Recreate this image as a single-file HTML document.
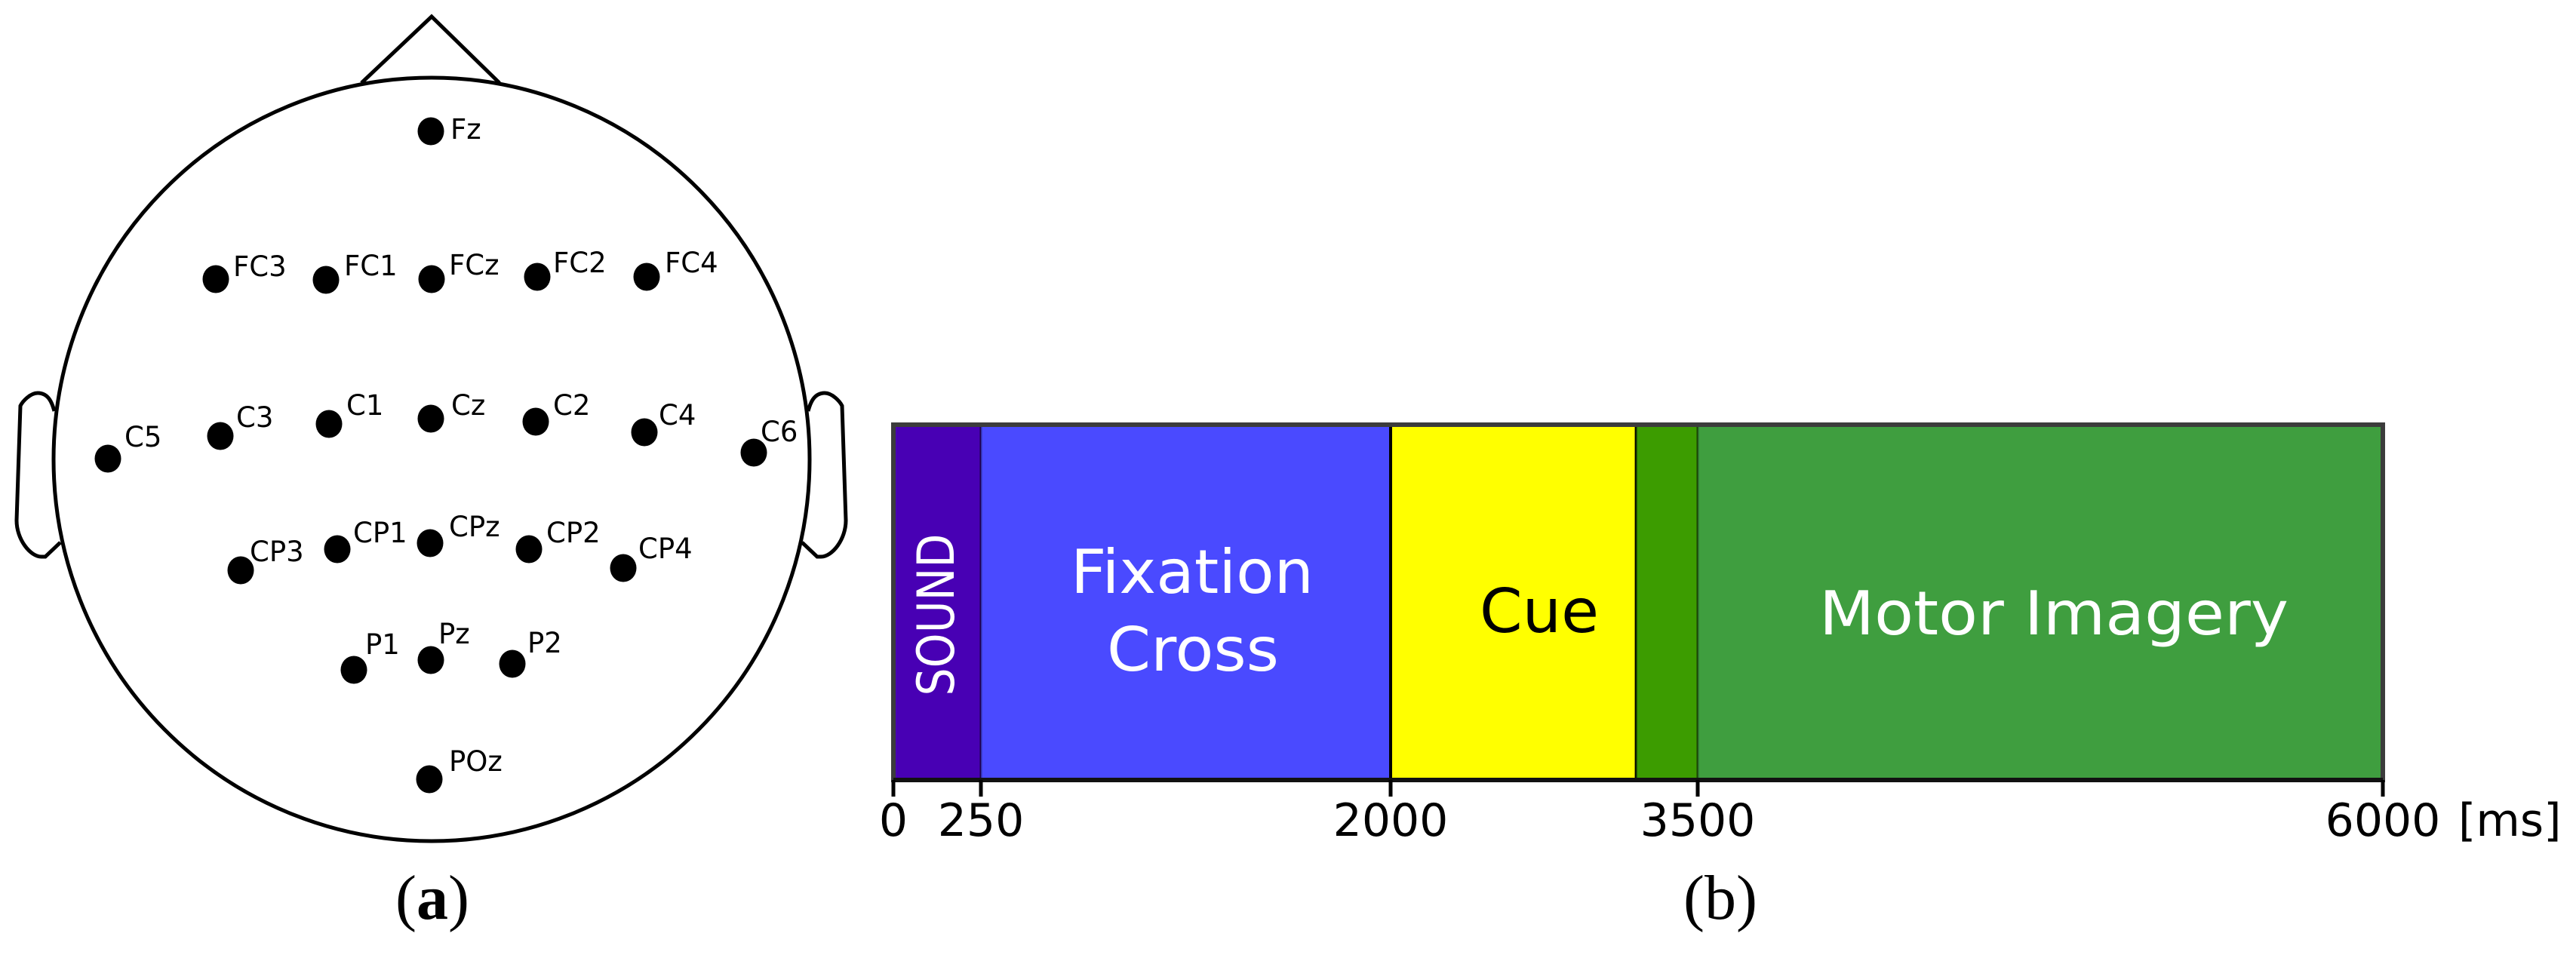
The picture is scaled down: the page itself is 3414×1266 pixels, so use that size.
<!DOCTYPE html>
<html><head><meta charset="utf-8"><style>
html,body{margin:0;padding:0;background:#fff;}
svg{display:block;}
</style></head><body>
<svg id="fig" width="3414" height="1266" viewBox="0 0 3414 1266" xmlns="http://www.w3.org/2000/svg">
<g id="head">
  <polyline points="479,110 572,22 662,110" fill="none" stroke="#000" stroke-width="5"/>
  <path d="M72,545 C70,538 66,521 50,521 C40,521 30,532 27,538 L22,690 C22,715 40,738 55,738 L60,738 L80,719" fill="none" stroke="#000" stroke-width="5"/>
  <path d="M1071,545 C1073,538 1077,521 1093,521 C1103,521 1113,532 1116,538 L1121,690 C1121,715 1103,738 1088,738 L1083,738 L1063,719" fill="none" stroke="#000" stroke-width="5"/>
  <ellipse cx="572" cy="609" rx="501" ry="506" fill="#fff" stroke="#000" stroke-width="5"/>
  <g id="electrodes"></g>
  <text x="573" y="1218" text-anchor="middle" font-family="Liberation Serif, serif" font-size="84">(<tspan font-weight="bold">a</tspan>)</text>
</g>
<g id="timeline"></g>
</svg>
<script>
// electrode data: name, x, y, label x, label baseline
const elNames = ["Fz","FC3","FC1","FCz","FC2","FC4","C5","C3","C1","Cz","C2","C4","C6","CP3","CP1","CPz","CP2","CP4","P1","Pz","P2","POz"];
const elX = [571,286,432,572,712,857,143,292,436,571,710,854,999,319,447,570,701,826,469,571,679,569];
const elY = [174,370,371,370,367,367,608,578,562,555,559,573,600,756,728,720,728,753,888,875,880,1033];
const lblX = [597,309,456,595,733,881,165,313,459,598,733,873,1008,331,468,595,724,846,484,581,699,595];
const lblY = [184,366,365,364,361,361,592,566,550,550,550,563,585,744,719,711,719,740,867,853,865,1022];

// timeline data (ms)
const phaseNames = ["SOUND","Fixation Cross","Cue","Transition","Motor Imagery"];
const phaseStart = [0,250,2000,3200,3500];
const phaseEnd = [250,2000,3200,3500,6000];
const phaseColors = ["#4800b4","#4a4aff","#ffff00","#3c9c00","#3f9e3f"];
const tickValues = [0,250,2000,3500,6000];
const tickLabels = ["0","250","2000","3500","6000"];

const NS="http://www.w3.org/2000/svg";
function mk(tag, attrs, parent){const e=document.createElementNS(NS,tag);for(const k in attrs)e.setAttribute(k,attrs[k]);parent.appendChild(e);return e;}

const eg=document.getElementById('electrodes');
elNames.forEach((n,i)=>{
  const c=mk('ellipse',{cx:elX[i],cy:elY[i],rx:17.5,ry:18.5,fill:'#000'},eg);
  
  
  const t=mk('text',{x:lblX[i],y:lblY[i],'font-family':'DejaVu Sans, sans-serif','font-size':37,fill:'#000'},eg);
  t.textContent=n;
  
  
});

// piecewise axis (the reference axis is not linear)
const axVals=[0,250,2000,3500,6000];
const axPx=[1184,1300,1843,2250,3158];
function xs(v){
  for(let i=0;i<axVals.length-1;i++){
    if(v<=axVals[i+1]){const f=(v-axVals[i])/(axVals[i+1]-axVals[i]);return axPx[i]+f*(axPx[i+1]-axPx[i]);}
  }
  return axPx[axPx.length-1];
}
const barTop=563, barBot=1034;
const tg=document.getElementById('timeline');
phaseNames.forEach((n,i)=>{
  const x0=xs(phaseStart[i]), x1=xs(phaseEnd[i]);
  const r=mk('rect',{x:x0,y:barTop,width:x1-x0,height:barBot-barTop,fill:phaseColors[i],stroke:i==2?'#000':'rgba(0,0,0,0.35)','stroke-width':i==2?4:3},tg);
  
  
});
const frame=mk('rect',{x:xs(0),y:barTop,width:xs(6000)-xs(0),height:barBot-barTop,fill:'none',stroke:'#3c3c3c','stroke-width':6},tg);


const axl=mk('line',{x1:xs(0),y1:barBot,x2:xs(6000),y2:barBot,stroke:'#111','stroke-width':6},tg);


tickValues.forEach((v,i)=>{
  const l=mk('line',{x1:xs(v),y1:barBot,x2:xs(v),y2:1056,stroke:'#000','stroke-width':5},tg);
  
  
  const t=mk('text',{x:xs(v),y:1108,'text-anchor':'middle','font-family':'DejaVu Sans, sans-serif','font-size':60},tg);
  t.textContent=tickLabels[i];
  
  
});
const unit=mk('text',{x:xs(6000)+100,y:1108,'font-family':'DejaVu Sans, sans-serif','font-size':60},tg);
unit.textContent='[ms]';



function label(txt,x,y,size,len,fill,name,rot){
  const t=mk('text',{x:x,y:y,'text-anchor':'middle','font-family':'DejaVu Sans, sans-serif','font-size':size,fill:fill,textLength:len,lengthAdjust:'spacingAndGlyphs'},tg);
  if(rot)t.setAttribute('transform','rotate(-90 '+x+' '+y+')');
  t.textContent=txt;
  
  
}
label('SOUND',1264,815,68,215,'#fff','sound-label',true);
label('Fixation',1580,786,80,322,'#fff','fixation-label');
label('Cross',1581,889,80,228,'#fff','cross-label');
label('Cue',2040,838,80,158,'#000','cue-label');
label('Motor Imagery',2722,841,80,622,'#fff','motor-imagery-label');
const pb=mk('text',{x:2280,y:1218,'text-anchor':'middle','font-family':'Liberation Serif, serif','font-size':84},tg);
pb.textContent='(b)';


</script>
</body></html>
